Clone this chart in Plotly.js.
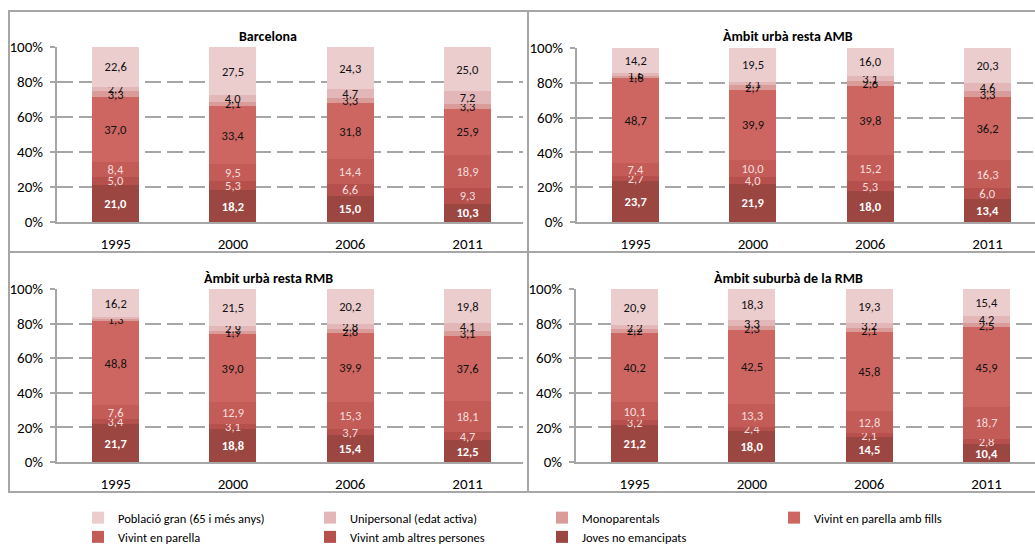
<!DOCTYPE html>
<html>
<head>
<meta charset="utf-8">
<script src="https://cdn.plot.ly/plotly-3.0.1.min.js"></script>
<style>html,body{margin:0;padding:0;background:#fff;}#chart{width:1035px;height:545px;}</style>
</head>
<body>
<div id="chart"></div>
<script>
// Categories
const years = ['1995', '2000', '2006', '2011'];
const panelTitles = ['Barcelona', 'Àmbit urbà resta AMB', 'Àmbit urbà resta RMB', 'Àmbit suburbà de la RMB'];
const seriesNames = ['Joves no emancipats', 'Vivint amb altres persones', 'Vivint en parella',
  'Vivint en parella amb fills', 'Monoparentals', 'Unipersonal (edat activa)', 'Població gran (65 i més anys)'];
const yTickVals = [0, 20, 40, 60, 80, 100];
const yTickText = ['0%', '20%', '40%', '60%', '80%', '100%'];

// Values per series, one row per panel (Barcelona, resta AMB, resta RMB, suburbà RMB)
const joves = [[21.0, 18.2, 15.0, 10.3], [23.7, 21.9, 18.0, 13.4], [21.7, 18.8, 15.4, 12.5], [21.2, 18.0, 14.5, 10.4]];
const altres = [[5.0, 5.3, 6.6, 9.3], [2.7, 4.0, 5.3, 6.0], [3.4, 3.1, 3.7, 4.7], [3.2, 2.4, 2.1, 2.8]];
const parella = [[8.4, 9.5, 14.4, 18.9], [7.4, 10.0, 15.2, 16.3], [7.6, 12.9, 15.3, 18.1], [10.1, 13.3, 12.8, 18.7]];
const parellaFills = [[37.0, 33.4, 31.8, 25.9], [48.7, 39.9, 39.8, 36.2], [48.8, 39.0, 39.9, 37.6], [40.2, 42.5, 45.8, 45.9]];
const monoparentals = [[3.3, 2.1, 3.3, 3.3], [1.6, 2.7, 2.6, 3.3], [1.3, 1.9, 2.8, 3.1], [2.2, 2.3, 2.1, 2.5]];
const unipersonal = [[2.7, 4.0, 4.7, 7.2], [1.6, 2.1, 3.1, 4.6], [1.0, 2.9, 2.8, 4.1], [2.2, 3.3, 3.2, 4.2]];
const gran = [[22.6, 27.5, 24.3, 25.0], [14.2, 19.5, 16.0, 20.3], [16.2, 21.5, 20.2, 19.8], [20.9, 18.3, 19.3, 15.4]];

const allSeries = [joves, altres, parella, parellaFills, monoparentals, unipersonal, gran];
const colors = ['#9C4642', '#B5504C', '#C35B56', '#CD6661', '#D99C99', '#E3B7B7', '#EBCDCE'];
const textColors = ['#FFFFFF', '#F4DEDD', '#F4DEDD', '#111111', '#111111', '#111111', '#111111'];
const textWeights = ['bold', 'normal', 'normal', 'normal', 'normal', 'normal', 'normal'];

const FONT = 'Carlito, Lato, "Liberation Sans", sans-serif';
const fmt = v => (v <= 1.0 ? '' : v.toFixed(1).replace('.', ','));

const W = 1035, H = 545;
const px = x => x / W;
const py = y => 1 - y / H;

const traces = [];
for (let p = 0; p < 4; p++) {
  const ax = p === 0 ? '' : String(p + 1);
  for (let s = 0; s < allSeries.length; s++) {
    const vals = allSeries[s][p];
    traces.push({
      type: 'bar',
      x: years,
      y: vals,
      name: seriesNames[s],
      legendgroup: seriesNames[s],
      showlegend: p === 0,
      xaxis: 'x' + ax,
      yaxis: 'y' + ax,
      width: 0.4,
      marker: { color: colors[s], line: { width: 0 } },
      text: vals.map(fmt),
      textposition: 'inside',
      insidetextanchor: 'middle',
      textangle: 0,
      constraintext: 'none',
      textfont: { family: FONT, size: 12.5, color: textColors[s], weight: textWeights[s] },
      hoverinfo: 'skip'
    });
  }
}

// Panel geometry (pixels)
const panels = [
  { x0: 57, x1: 523, yTop: 47, yBot: 222 },
  { x0: 577, x1: 1035, yTop: 48, yBot: 222 },
  { x0: 57, x1: 523, yTop: 289, yBot: 462 },
  { x0: 576, x1: 1035, yTop: 289, yBot: 462 }
];
const spacing = 117.3;

const layout = {
  width: W, height: H,
  margin: { l: 0, r: 0, t: 0, b: 0, autoexpand: false },
  paper_bgcolor: '#ffffff',
  plot_bgcolor: 'rgba(0,0,0,0)',
  barmode: 'stack',
  font: { family: FONT, size: 13, color: '#000' },
  uniformtext: { mode: 'show', minsize: 12.5 },
  showlegend: true,
  legend: {
    orientation: 'h',
    traceorder: 'reversed',
    x: px(78), xanchor: 'left',
    y: py(503), yanchor: 'top',
    entrywidth: 187, entrywidthmode: 'pixels',
    font: { family: FONT, size: 12.5, color: '#000' },
    itemclick: false, itemdoubleclick: false,
    tracegroupgap: 0
  },
  annotations: [],
  shapes: [
    { type: 'rect', xref: 'paper', yref: 'paper', x0: px(9), x1: px(1045), y0: py(492), y1: py(11),
      line: { color: '#A6A6A6', width: 2 }, fillcolor: 'rgba(0,0,0,0)', layer: 'below' },
    { type: 'line', xref: 'paper', yref: 'paper', x0: px(528), x1: px(528), y0: py(492), y1: py(11),
      line: { color: '#A6A6A6', width: 2 }, layer: 'below' },
    { type: 'line', xref: 'paper', yref: 'paper', x0: px(9), x1: px(1045), y0: py(252), y1: py(252),
      line: { color: '#A6A6A6', width: 2 }, layer: 'below' }
  ]
};

const titleCenters = [[268, 37], [788, 37], [268, 278], [788, 278]];

panels.forEach((pn, i) => {
  const ax = i === 0 ? '' : String(i + 1);
  const span = (pn.x1 - pn.x0) / spacing;
  layout['xaxis' + ax] = {
    domain: [px(pn.x0), px(pn.x1)],
    anchor: 'y' + ax,
    type: 'category',
    range: [-0.5, -0.5 + span],
    showline: true, linecolor: '#A6A6A6', linewidth: 2,
    showgrid: false, zeroline: false,
    ticks: '',
    ticklabelstandoff: 7,
    tickfont: { family: FONT, size: 15, color: '#000' },
    automargin: false,
    fixedrange: true
  };
  layout['yaxis' + ax] = {
    domain: [py(pn.yBot), py(pn.yTop)],
    anchor: 'x' + ax,
    range: [0, 100],
    tickmode: 'array',
    tickvals: yTickVals,
    ticktext: yTickText,
    showline: true, linecolor: '#A6A6A6', linewidth: 2,
    ticks: 'outside', ticklen: 5, tickcolor: '#A6A6A6', tickwidth: 2,
    ticklabelstandoff: 4,
    showgrid: true, gridcolor: '#A6A6A6', gridwidth: 2, griddash: '16px,6px',
    zeroline: false,
    tickfont: { family: FONT, size: 15, color: '#000' },
    automargin: false,
    fixedrange: true
  };
  layout.annotations.push({
    xref: 'paper', yref: 'paper',
    x: px(titleCenters[i][0]), y: py(titleCenters[i][1]),
    xanchor: 'center', yanchor: 'middle',
    text: '<b>' + panelTitles[i] + '</b>',
    showarrow: false,
    font: { family: FONT, size: 14, color: '#000' }
  });
});

Plotly.newPlot('chart', traces, layout, { staticPlot: true, displayModeBar: false });
</script>
</body>
</html>
